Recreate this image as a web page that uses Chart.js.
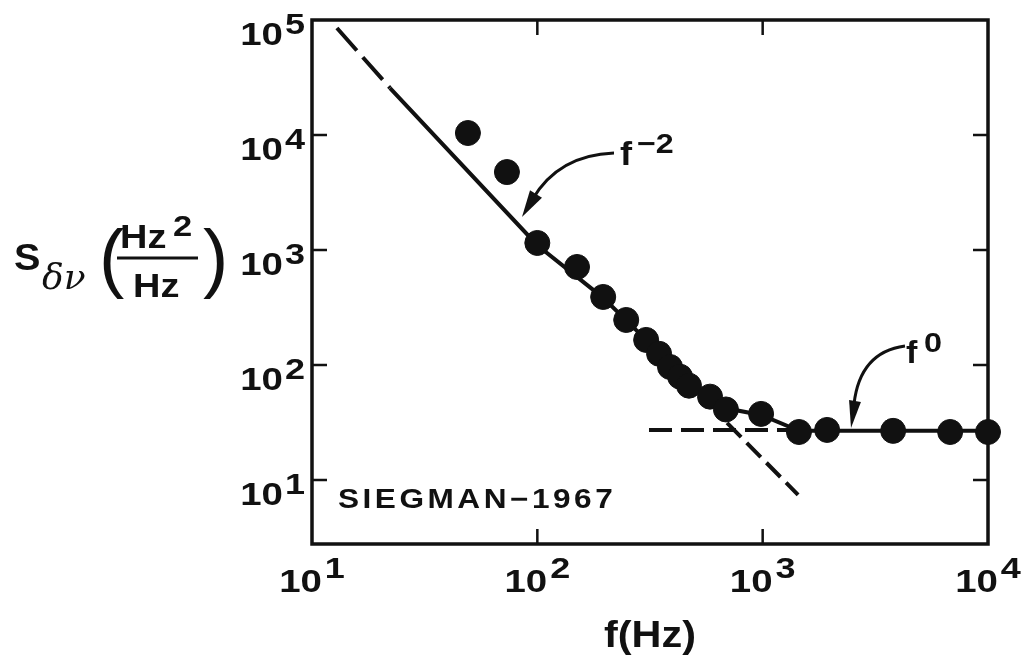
<!DOCTYPE html>
<html>
<head>
<meta charset="utf-8">
<script src="https://cdn.jsdelivr.net/npm/chart.js@4.4.1/dist/chart.umd.min.js"></script>
<style>
  body { margin: 0; background: #fff; }
</style>
</head>
<body>
<canvas id="spectrum-chart" width="1023" height="657"></canvas>
<script>
// measured points (f in Hz, S in Hz^2/Hz)
const freq = [49.2, 73.3, 100, 150, 196, 248, 304, 347, 388, 430, 471, 584, 687, 984, 1449, 1932, 3793, 6792, 10000];
const spectrum = [10400, 4760, 1150, 711, 390, 246, 165, 125, 96, 79, 66, 53, 41, 37.5, 26.1, 27.2, 26.7, 26.1, 26.1];

// solid curve drawn through the data
const fitFreq = [22.2, 100, 196, 304, 471, 687, 984, 1449, 10000];
const fitS = [25600, 1100, 383, 165, 67, 42, 36.7, 26.7, 26.7];

// dashed asymptotes
const topDashFreq = [12.9, 22.2];
const topDashS = [85200, 25600];
const slopeDashFreq = [695, 1436];
const slopeDashS = [31.3, 7.41];
const flatDashFreq = [313, 1321];
const flatDashS = [27.2, 27.2];

// axis ticks (decades) and their exponents
const xTickValues = [10, 100, 1000, 10000];
const xTickExps = ["1", "2", "3", "4"];
const yTickValues = [10, 100, 1000, 10000, 100000];
const yTickExps = ["1", "2", "3", "4", "5"];

const toXY = (xs, ys) => xs.map((x, i) => ({ x: x, y: ys[i] }));

const FONT = '"Liberation Sans", Arial, sans-serif';

function stretchText(ctx, str, x, y, font, align, sx) {
  ctx.save();
  ctx.font = font;
  const w = ctx.measureText(str).width * sx;
  let left = x;
  if (align === "center") left = x - w / 2;
  if (align === "right") left = x - w;
  ctx.translate(left, y);
  ctx.scale(sx, 1);
  ctx.textAlign = "left";
  ctx.textBaseline = "alphabetic";
  ctx.fillText(str, 0, 0);
  ctx.restore();
  return w;
}

function measure(ctx, str, font, sx) {
  ctx.save();
  ctx.font = font;
  const w = ctx.measureText(str).width * sx;
  ctx.restore();
  return w;
}

function arrowHead(ctx, tipX, tipY, baseX, baseY, half) {
  const dx = tipX - baseX, dy = tipY - baseY;
  const len = Math.hypot(dx, dy);
  const nx = -dy / len, ny = dx / len;
  ctx.beginPath();
  ctx.moveTo(tipX, tipY);
  ctx.lineTo(baseX + nx * half, baseY + ny * half);
  ctx.lineTo(baseX - nx * half, baseY - ny * half);
  ctx.closePath();
  ctx.fill();
}

const decor = {
  id: "decor",
  beforeDatasetsDraw(chart) {
    const ctx = chart.ctx;
    const a = chart.chartArea;
    const xs = chart.scales.x, ys = chart.scales.y;
    ctx.save();
    ctx.strokeStyle = "#111";
    ctx.lineWidth = 3.5;
    ctx.strokeRect(a.left, a.top, a.right - a.left, a.bottom - a.top);
    ctx.lineWidth = 2.5;
    const tl = 15;
    xTickValues.forEach(v => {
      const px = xs.getPixelForValue(v);
      if (px <= a.left + 2 || px >= a.right - 2) return;
      ctx.beginPath();
      ctx.moveTo(px, a.bottom); ctx.lineTo(px, a.bottom - tl);
      ctx.moveTo(px, a.top); ctx.lineTo(px, a.top + tl);
      ctx.stroke();
    });
    yTickValues.forEach(v => {
      const py = ys.getPixelForValue(v);
      if (py <= a.top + 2 || py >= a.bottom - 2) return;
      ctx.beginPath();
      ctx.moveTo(a.left, py); ctx.lineTo(a.left + tl, py);
      ctx.moveTo(a.right, py); ctx.lineTo(a.right - tl, py);
      ctx.stroke();
    });
    ctx.restore();
  },
  afterDraw(chart) {
    const ctx = chart.ctx;
    const a = chart.chartArea;
    const xs = chart.scales.x, ys = chart.scales.y;
    const sx = 1.2;
    const baseFont = "bold 32px " + FONT;
    const expFont = "bold 30px " + FONT;
    ctx.save();
    ctx.fillStyle = "#111";
    ctx.strokeStyle = "#111";

    // x tick labels, "10" + exponent centred on the tick
    xTickValues.forEach((v, i) => {
      const px = xs.getPixelForValue(v);
      const wb = measure(ctx, "10", baseFont, sx);
      const we = measure(ctx, xTickExps[i], expFont, sx);
      const left = px - (wb + we + 3) / 2;
      stretchText(ctx, "10", left, a.bottom + 48, baseFont, "left", sx);
      stretchText(ctx, xTickExps[i], left + wb + 3, a.bottom + 34, expFont, "left", sx);
    });

    // y tick labels
    yTickValues.forEach((v, i) => {
      const py = ys.getPixelForValue(v);
      const right = a.left - 7;
      const we = measure(ctx, yTickExps[i], expFont, sx);
      stretchText(ctx, yTickExps[i], right, py + 14, expFont, "right", sx);
      stretchText(ctx, "10", right - we - 2, py + 25, baseFont, "right", sx);
    });

    // x axis title
    stretchText(ctx, "f(Hz)", 650, 647, "bold 36px " + FONT, "center", 1.15);

    // y axis title: S_{δν}(Hz^2/Hz)
    stretchText(ctx, "S", 14, 270, "bold 36px " + FONT, "left", 1.1);
    ctx.font = "italic 36px 'DejaVu Serif', serif";
    ctx.textAlign = "left";
    ctx.fillText("\u03B4\u03BD", 42, 289);
    ctx.font = "76px " + FONT;
    ctx.fillText("(", 99, 283);
    stretchText(ctx, "Hz", 120, 248, "bold 33px " + FONT, "left", 1.15);
    stretchText(ctx, "2", 173, 236, "bold 30px " + FONT, "left", 1.15);
    ctx.lineWidth = 3;
    ctx.beginPath();
    ctx.moveTo(117, 258); ctx.lineTo(198, 258);
    ctx.stroke();
    stretchText(ctx, "Hz", 133, 297, "bold 33px " + FONT, "left", 1.15);
    ctx.font = "76px " + FONT;
    ctx.fillText(")", 203, 283);

    // source tag
    ctx.save();
    ctx.letterSpacing = "3px";
    stretchText(ctx, "SIEGMAN\u22121967", 338, 508, "bold 27px " + FONT, "left", 1.17);
    ctx.restore();

    // f^-2 annotation
    stretchText(ctx, "f", 620, 165, "bold 33px " + FONT, "left", 1.1);
    stretchText(ctx, "\u22122", 637, 153, "bold 28px " + FONT, "left", 1.15);
    ctx.lineWidth = 3;
    ctx.beginPath();
    ctx.moveTo(614, 153);
    ctx.quadraticCurveTo(558, 155, 532, 200);
    ctx.stroke();
    arrowHead(ctx, 522, 217, 536, 194, 7);

    // f^0 annotation
    stretchText(ctx, "f", 906, 363, "bold 31px " + FONT, "left", 1.1);
    stretchText(ctx, "0", 924, 352, "bold 27px " + FONT, "left", 1.2);
    ctx.beginPath();
    ctx.moveTo(905, 346);
    ctx.quadraticCurveTo(860, 352, 854, 404);
    ctx.stroke();
    arrowHead(ctx, 851, 428, 855, 401, 6);

    ctx.restore();
  }
};

new Chart("spectrum-chart", {
  type: "scatter",
  data: {
    datasets: [
      {
        label: "data",
        data: toXY(freq, spectrum),
        backgroundColor: "#111",
        borderColor: "#111",
        pointRadius: 12.5,
        pointHoverRadius: 12.5,
        showLine: false,
        clip: false
      },
      {
        label: "fit",
        data: toXY(fitFreq, fitS),
        showLine: true,
        borderColor: "#111",
        borderWidth: 4,
        pointRadius: 0,
        tension: 0
      },
      {
        label: "f^-2 top",
        data: toXY(topDashFreq, topDashS),
        showLine: true,
        borderColor: "#111",
        borderWidth: 4,
        borderDash: [30, 9],
        pointRadius: 0
      },
      {
        label: "f^-2 tail",
        data: toXY(slopeDashFreq, slopeDashS),
        showLine: true,
        borderColor: "#111",
        borderWidth: 4,
        borderDash: [20, 8],
        pointRadius: 0
      },
      {
        label: "f^0",
        data: toXY(flatDashFreq, flatDashS),
        showLine: true,
        borderColor: "#111",
        borderWidth: 4,
        borderDash: [23, 9],
        pointRadius: 0
      }
    ]
  },
  options: {
    responsive: false,
    animation: false,
    layout: { padding: { left: 312, right: 35, top: 20, bottom: 113 } },
    plugins: { legend: { display: false }, tooltip: { enabled: false } },
    scales: {
      x: {
        type: "logarithmic",
        min: 10,
        max: 10000,
        ticks: { display: false },
        grid: { display: false, drawTicks: false },
        border: { display: false }
      },
      y: {
        type: "logarithmic",
        min: 2.77,
        max: 100000,
        ticks: { display: false },
        grid: { display: false, drawTicks: false },
        border: { display: false }
      }
    }
  },
  plugins: [decor]
});
</script>
</body>
</html>
